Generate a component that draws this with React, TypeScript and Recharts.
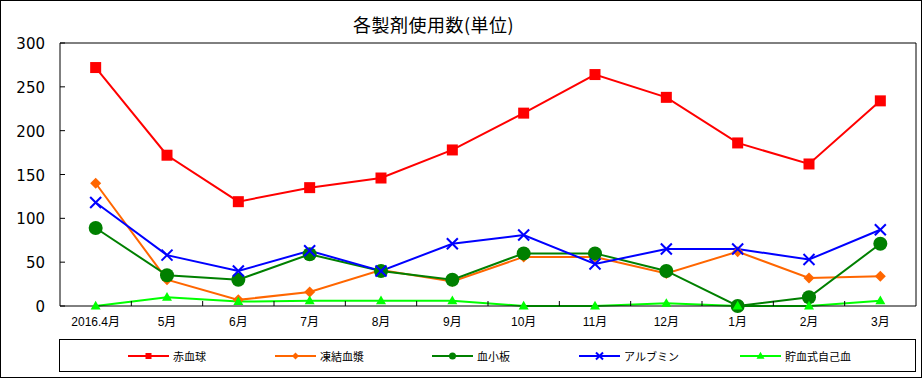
import React from 'react';
import { LineChart, Line, XAxis, YAxis } from 'recharts';

// ---- data ----
const categories = ['2016.4月', '5月', '6月', '7月', '8月', '9月', '10月', '11月', '12月', '1月', '2月', '3月'];
const redCells = [272, 172, 119, 135, 146, 178, 220, 264, 238, 186, 162, 234];
const frozenPlasma = [140, 30, 7, 16, 41, 28, 56, 56, 37, 62, 32, 34];
const platelets = [89, 35, 30, 59, 40, 30, 60, 60, 40, 0, 10, 71];
const albumin = [118, 58, 40, 63, 40, 71, 81, 48, 65, 65, 53, 87];
const autologous = [0, 10, 5, 6, 6, 6, 0, 0, 3, 0, 0, 6];
const yTicks = [0, 50, 100, 150, 200, 250, 300];
const seriesNames = ['赤血球', '凍結血漿', '血小板', 'アルブミン', '貯血式自己血'];
const title = '各製剤使用数(単位)';

const data = categories.map((c, i) => ({
  cat: c,
  s0: redCells[i],
  s1: frozenPlasma[i],
  s2: platelets[i],
  s3: albumin[i],
  s4: autologous[i],
}));

// ---- styles / layout ----
const W = 922;
const H = 378;
const MARGIN = { top: 42, right: 5, bottom: 42, left: 0 };
const Y_AXIS_W = 60;
const X_AXIS_H = 30;
const PLOT_W = 856;
const HALF_BAND = PLOT_W / categories.length / 2;
const colors = ['#FF0000', '#FF6600', '#008000', '#0000FF', '#00FF00'];
const markerKinds = ['square', 'diamond', 'circle', 'cross', 'triangle'];
const legendX = [68, 215, 372, 519, 680];

function Marker({ kind, cx, cy, color, s }: { kind: string; cx: number; cy: number; color: string; s: number }) {
  if (cx == null || cy == null || isNaN(cx) || isNaN(cy)) return null;
  switch (kind) {
    case 'square':
      return <rect x={cx - s / 2} y={cy - s / 2} width={s} height={s} fill={color} />;
    case 'diamond':
      return (
        <polygon
          points={`${cx},${cy - s / 2} ${cx + s / 2},${cy} ${cx},${cy + s / 2} ${cx - s / 2},${cy}`}
          fill={color}
        />
      );
    case 'circle':
      return <circle cx={cx} cy={cy} r={s / 2} fill={color} />;
    case 'cross':
      return (
        <g stroke={color} strokeWidth={2}>
          <line x1={cx - s / 2} y1={cy - s / 2} x2={cx + s / 2} y2={cy + s / 2} />
          <line x1={cx - s / 2} y1={cy + s / 2} x2={cx + s / 2} y2={cy - s / 2} />
        </g>
      );
    case 'triangle': {
      const h = s * 0.87;
      return (
        <polygon
          points={`${cx},${cy - h * 0.6} ${cx + s / 2},${cy + h * 0.4} ${cx - s / 2},${cy + h * 0.4}`}
          fill={color}
        />
      );
    }
    default:
      return null;
  }
}

const markerSize = [11, 11, 14, 11, 10];
const legendMarkerSize = [6, 7, 7, 7, 8];

const makeDot = (idx: number) => (props: any) => (
  <Marker
    key={`d${idx}-${props.index}`}
    kind={markerKinds[idx]}
    cx={props.cx}
    cy={props.cy}
    color={colors[idx]}
    s={markerSize[idx]}
  />
);

const XTick = (props: any) => {
  const { x, y, payload, index } = props;
  return (
    <g>
      {index < categories.length - 1 && (
        <line x1={x + HALF_BAND} x2={x + HALF_BAND} y1={y} y2={y - 5} stroke="#000" strokeWidth={1} />
      )}
      <text
        x={x}
        y={y + 20}
        textAnchor="middle"
        fontSize={12}
        fontFamily="'Liberation Sans', 'Noto Sans CJK JP', sans-serif"
        fill="#000"
      >
        {payload.value}
      </text>
    </g>
  );
};

const YTick = (props: any) => {
  const { x, y, payload } = props;
  return (
    <g>
      <line x1={x} x2={x + 5} y1={y} y2={y} stroke="#000" strokeWidth={1} />
      <text x={x - 15} y={y + 6} textAnchor="end" fontSize={15} fontFamily="'DejaVu Sans', sans-serif" fill="#000">
        {payload.value}
      </text>
    </g>
  );
};

export default function App() {
  return (
    <div style={{ position: 'absolute', left: 0, top: 0, width: W, height: H, background: '#fff', overflow: 'hidden' }}>
      <LineChart width={W} height={H} data={data} margin={MARGIN}>
        <XAxis
          dataKey="cat"
          interval={0}
          height={X_AXIS_H}
          padding={{ left: HALF_BAND, right: HALF_BAND }}
          axisLine={{ stroke: '#000', strokeWidth: 1 }}
          tickLine={false}
          tickSize={0}
          tickMargin={0}
          tick={<XTick />}
        />
        <XAxis
          xAxisId="top"
          dataKey="cat"
          orientation="top"
          height={1}
          padding={{ left: HALF_BAND, right: HALF_BAND }}
          axisLine={{ stroke: '#000', strokeWidth: 1 }}
          tickLine={false}
          tick={false}
        />
        <YAxis
          width={Y_AXIS_W}
          domain={[0, 300]}
          ticks={yTicks}
          interval={0}
          axisLine={{ stroke: '#000', strokeWidth: 1 }}
          tickLine={false}
          tickSize={0}
          tickMargin={0}
          tick={<YTick />}
        />
        <YAxis
          yAxisId="right"
          orientation="right"
          width={1}
          domain={[0, 300]}
          axisLine={{ stroke: '#000', strokeWidth: 1 }}
          tickLine={false}
          tick={false}
        />
        {colors.map((c, i) => (
          <Line
            key={`s${i}`}
            type="linear"
            dataKey={`s${i}`}
            name={seriesNames[i]}
            stroke={c}
            strokeWidth={2}
            dot={makeDot(i)}
            activeDot={false}
            isAnimationActive={false}
          />
        ))}
      </LineChart>

      <div
        style={{
          position: 'absolute',
          left: 0,
          width: 867,
          top: 14,
          textAlign: 'center',
          fontSize: 18,
          lineHeight: '20px',
          letterSpacing: 0.5,
          fontFamily: "'Noto Sans CJK JP', sans-serif",
          color: '#000',
        }}
      >
        {title}
      </div>

      <div
        style={{
          position: 'absolute',
          left: 59,
          top: 339,
          width: 857,
          height: 33,
          boxSizing: 'border-box',
          border: '1px solid #000',
          fontFamily: "'Noto Sans CJK JP', sans-serif",
          fontSize: 11,
        }}
      >
        {seriesNames.map((n, i) => (
          <div
            key={n}
            style={{ position: 'absolute', left: legendX[i], top: 8, height: 16, display: 'flex', alignItems: 'center' }}
          >
            <svg width={41} height={12} style={{ display: 'block' }}>
              <line x1={0} x2={41} y1={6} y2={6} stroke={colors[i]} strokeWidth={2} />
              <Marker kind={markerKinds[i]} cx={20.5} cy={6} color={colors[i]} s={legendMarkerSize[i]} />
            </svg>
            <span style={{ marginLeft: 4, lineHeight: '16px', whiteSpace: 'nowrap' }}>{n}</span>
          </div>
        ))}
      </div>

      <div
        style={{
          position: 'absolute',
          left: 0,
          top: 0,
          width: W,
          height: H,
          boxSizing: 'border-box',
          border: '1px solid #000',
          pointerEvents: 'none',
        }}
      />
    </div>
  );
}
